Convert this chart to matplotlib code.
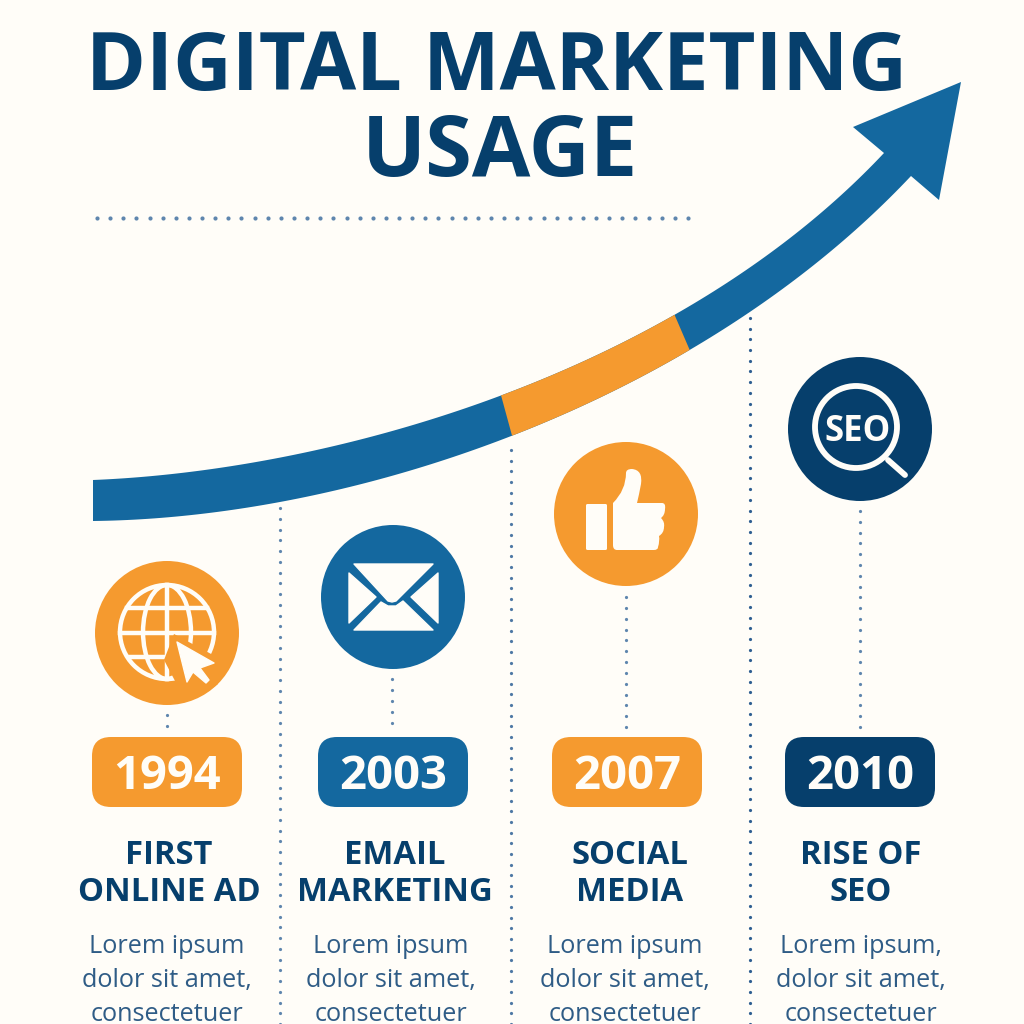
#!/usr/bin/env python3
"""Digital marketing usage timeline infographic."""

import numpy as np
import matplotlib
matplotlib.use("Agg")
import matplotlib.pyplot as plt
from matplotlib.patches import Circle, Ellipse, FancyBboxPatch, Polygon, PathPatch
from matplotlib.path import Path

ORANGE = "#F59A2F"
BLUE = "#14689F"
NAVY = "#063F6C"
BG = "#FFFDF8"
DOT = "#5F86AE"
BODY = "#2F5C86"
WHITE = "#FFFDF8"

years = ["1994", "2003", "2007", "2010"]
titles = [["FIRST", "ONLINE AD"], ["EMAIL", "MARKETING"], ["SOCIAL", "MEDIA"], ["RISE OF", "SEO"]]
bodies = [
    ["Lorem ipsum", "dolor sit amet,", "consectetuer"],
    ["Lorem ipsum", "dolor sit amet,", "consectetuer"],
    ["Lorem ipsum", "dolor sit amet,", "consectetuer"],
    ["Lorem ipsum,", "dolor sit amet,", "consectetuer"],
]
colors = [ORANGE, BLUE, ORANGE, NAVY]

# layout, in reference pixels
pill_x = [167, 393, 627, 860]
text_x = [169, 395, 630, 861]
body_x = [167, 391, 625, 861]
icon_x = [167, 393, 626, 860]
icon_y = [633, 597, 514, 429]
stem_x = [167, 392, 626, 860]
stem_top = [715, 679, 597, 511]
stem_end = [726, 723, 727, 727]
guide_x = [280, 511, 750]
guide_top = [508, 450, 318]
guide_col = [DOT, "#4F79A5", "#2F5F92"]

plt.rcParams["font.family"] = ["Open Sans", "DejaVu Sans"]

fig = plt.figure(figsize=(10.24, 10.24), dpi=100, facecolor=BG)
ax = fig.add_axes([0, 0, 1, 1])
ax.set_xlim(0, 1024)
ax.set_ylim(1024, 0)
ax.axis("off")


def dots(x0, y0, x1, y1, step, color=DOT, size=2.3, z=1):
    n = int(round(np.hypot(x1 - x0, y1 - y0) / step))
    ax.plot(np.linspace(x0, x1, n + 1), np.linspace(y0, y1, n + 1), "o",
            color=color, ms=size, mew=0, zorder=z)


def bezier(p0, p1, p2, p3, n=120):
    t = np.linspace(0, 1, n)[:, None]
    p0, p1, p2, p3 = [np.array(p, float) for p in (p0, p1, p2, p3)]
    return (1 - t) ** 3 * p0 + 3 * (1 - t) ** 2 * t * p1 + 3 * (1 - t) * t ** 2 * p2 + t ** 3 * p3


def band():
    up = bezier((93, 480), (340, 470), (680, 370), (884, 153))
    lo = bezier((93, 521), (360, 518), (700, 400), (911, 176))
    head = [(884, 153), (853, 127), (961, 82), (939, 200), (911, 176)]
    ax.add_patch(Polygon(np.vstack([up, head, lo[::-1]]), fc=BLUE, ec="none", zorder=3))
    # orange stretch between x 498..678 on the top edge, 511..695 on the bottom
    up_o = up[(up[:, 0] >= 498) & (up[:, 0] <= 678)]
    lo_o = lo[(lo[:, 0] >= 511) & (lo[:, 0] <= 695)]
    ax.add_patch(Polygon(np.vstack([up_o, lo_o[::-1]]), fc=ORANGE, ec="none", zorder=4))


def globe_icon(cx, cy):
    r = 47
    lw = 3.2
    cy = cy - 1
    kw = dict(fc="none", ec=WHITE, lw=lw, zorder=6)
    ax.add_patch(Circle((cx, cy), r, **kw))
    ax.add_patch(Ellipse((cx, cy), r * 1.02, r * 2, **kw))
    ax.plot([cx, cx], [cy - r, cy + r], color=WHITE, lw=lw, zorder=6)
    for off, half in [(-24, 40), (1, 47), (25, 38)]:
        ax.plot([cx - half, cx + half], [cy + off, cy + off], color=WHITE, lw=lw, zorder=6)
    # cursor with a halo cut out of the globe
    cur = [(177, 642), (214, 663), (200, 668), (209, 680), (206, 683), (193, 672), (187, 682)]
    ax.add_patch(Polygon([(174, 634), (226, 662), (208, 672), (218, 684), (204, 694), (193, 684), (184, 698), (164, 660)],
                         fc=ORANGE, ec="none", zorder=7))
    ax.add_patch(Polygon(cur, closed=True, fc=WHITE, ec=WHITE, lw=1, joinstyle="round", zorder=8))


def mail_icon(cx, cy):
    kw = dict(fc=WHITE, ec=WHITE, lw=1, joinstyle="round", zorder=6)
    ax.add_patch(Polygon([(354, 564), (433, 564), (396, 601), (392, 602), (388, 601)], **kw))
    ax.add_patch(Polygon([(349, 573), (376, 597), (349, 623)], **kw))
    ax.add_patch(Polygon([(438, 573), (411, 597), (438, 623)], **kw))
    ax.add_patch(Polygon([(354, 630), (381, 602), (388, 606), (396, 606), (403, 601), (433, 630)], **kw))


def thumb_icon(cx, cy):
    ax.add_patch(FancyBboxPatch((586, 504), 21, 46, boxstyle="round,pad=0,rounding_size=1.5",
                                fc=WHITE, ec="none", zorder=6))
    M, L, C = Path.MOVETO, Path.LINETO, Path.CURVE3
    verts = [(613, 503), (626, 490), (626, 473), (626, 469), (632, 469), (643, 470), (641, 484),
             (639, 495), (637, 503), (662, 503), (666, 503), (665, 509), (665, 515), (661, 518),
             (665, 522), (664, 527), (664, 533), (659, 536), (660, 541), (658, 547), (658, 550),
             (654, 550), (617, 550), (613, 550), (613, 545), (613, 503)]
    codes = [M, C, C, C, C, C, C, C, C, L, C, C, C, C, C, C, C, C, C, C, C, C, L, C, C, L]
    ax.add_patch(PathPatch(Path(verts, codes), fc=WHITE, ec="none", zorder=6))


def seo_icon(cx, cy):
    ax.add_patch(Circle((856, 427), 41, fc="none", ec=WHITE, lw=4.2, zorder=6))
    ax.plot([888, 905], [460, 475], color=WHITE, lw=4.2, solid_capstyle="round", zorder=6)
    ax.text(858, 441, "SEO", color=WHITE, fontsize=25, fontweight="bold",
            ha="center", va="baseline", zorder=7)


def main():
    ax.text(497, 90, "DIGITAL MARKETING", color=NAVY, fontsize=58.5, fontweight="bold",
            ha="center", va="baseline")
    ax.text(500, 176, "USAGE", color=NAVY, fontsize=61, fontweight="bold",
            ha="center", va="baseline")
    dots(97, 218, 688, 218, 13.1, size=3.0)

    for x, top, col in zip(guide_x, guide_top, guide_col):
        dots(x, top, x, 1024, 10.7, color=col)
    band()

    for i, year in enumerate(years):
        dots(stem_x[i], stem_top[i], stem_x[i], stem_end[i], 10.7)
        ax.add_patch(Circle((icon_x[i], icon_y[i]), 72, fc=colors[i], ec="none", zorder=5))
        ax.add_patch(FancyBboxPatch((pill_x[i] - 75, 737), 150, 70,
                                    boxstyle="round,pad=0,rounding_size=19",
                                    fc=colors[i], ec="none", zorder=5))
        ax.text(pill_x[i], 789, year, color=WHITE, fontsize=34, fontweight="bold",
                ha="center", va="baseline", zorder=6)
        for j, line in enumerate(titles[i]):
            ax.text(text_x[i], 864 + 37 * j, line, color=NAVY, fontsize=23.6, fontweight="bold",
                    ha="center", va="baseline")
        for j, line in enumerate(bodies[i]):
            ax.text(body_x[i], 953 + 34 * j, line, color=BODY, fontsize=18.2,
                    ha="center", va="baseline")

    globe_icon(icon_x[0], icon_y[0])
    mail_icon(icon_x[1], icon_y[1])
    thumb_icon(icon_x[2], icon_y[2])
    seo_icon(icon_x[3], icon_y[3])

    fig.savefig("out.png", dpi=100, facecolor=BG)


if __name__ == "__main__":
    main()
